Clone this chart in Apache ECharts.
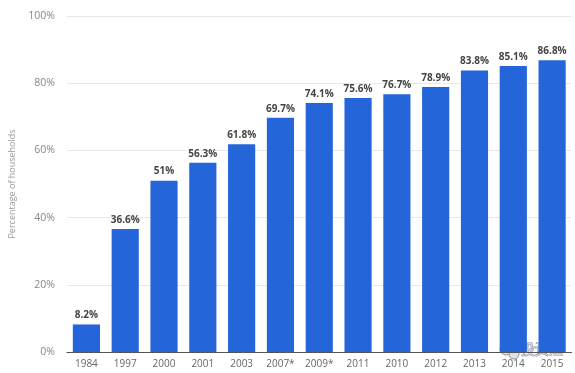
<!DOCTYPE html>
<html><head><meta charset="utf-8">
<script src="https://cdn.jsdelivr.net/npm/echarts@6/dist/echarts.min.js"></script>
<style>html,body{margin:0;padding:0;background:#fff}#c{width:575px;height:373px}</style>
</head><body><div id="c"></div>
<script>
var categories = ['1984','1997','2000','2001','2003','2007*','2009*','2011','2010','2012','2013','2014','2015'];
var values = [8.2, 36.6, 51, 56.3, 61.8, 69.7, 74.1, 75.6, 76.7, 78.9, 83.8, 85.1, 86.8];
var yTicks = [0, 20, 40, 60, 80, 100];
var chart = echarts.init(document.getElementById('c'));
chart.setOption({
  animation: false,
  grid: {left: 64.5, right: 3.5, top: 16, bottom: 21, containLabel: false},
  xAxis: {
    type: 'category', data: categories,
    axisLine: {lineStyle: {color: '#555', width: 1}},
    axisTick: {show: false},
    axisLabel: {interval: 0, color: '#666', fontSize: 10, fontFamily: 'Open Sans', margin: 7}
  },
  yAxis: {
    type: 'value', min: yTicks[0], max: yTicks[yTicks.length-1], interval: 20,
    name: 'Percentage of households', nameLocation: 'middle', nameGap: 50, nameRotate: 90,
    nameTextStyle: {color: '#999', fontSize: 9, fontFamily: 'Open Sans'},
    axisLine: {show: false}, axisTick: {show: false},
    axisLabel: {color: '#888', fontSize: 10.5, fontFamily: 'Open Sans', margin: 12, formatter: '{value}%'},
    splitLine: {lineStyle: {color: '#e8e8e8'}}
  },
  series: [{
    type: 'bar', data: values, barWidth: '70%',
    itemStyle: {color: '#2466d9'},
    label: {show: true, position: 'top', distance: 4, color: '#444', fontWeight: 'bold', fontSize: 10, fontFamily: 'Open Sans', formatter: '{c}%'}
  }],
  graphic: [{
    type: 'group', z: 100, zlevel: 1,
    children: [{
      type: 'circle', shape: {cx: 506, cy: 349, r: 6},
      style: {fill: '#dde2ec', stroke: '#8890a0', lineWidth: 1}
    }, {
      type: 'circle', shape: {cx: 514, cy: 354, r: 5},
      style: {fill: '#dde2ec', stroke: '#8890a0', lineWidth: 1}
    }, {
      type: 'text', x: 521, y: 342,
      style: {text: '投资汇', fill: '#d4d9e4', stroke: '#8890a0', lineWidth: 1, fontSize: 14, fontFamily: 'Noto Sans CJK SC'}
    }]
  }]
});
</script></body></html>
